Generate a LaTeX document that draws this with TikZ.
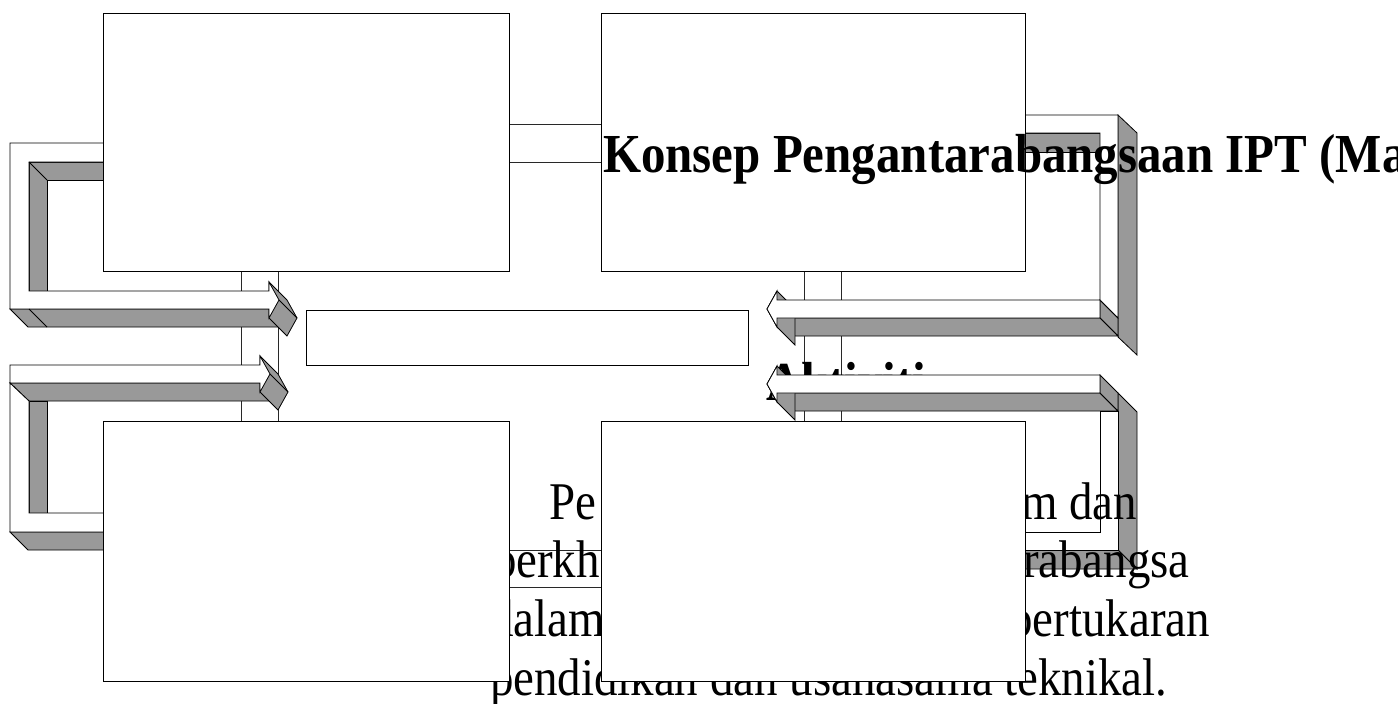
\documentclass[tikz,border=0pt]{standalone}
\usepackage{fontspec}
\usepackage{graphicx}
\setmainfont{Liberation Serif}
\definecolor{arrgray}{RGB}{153,153,153}
\definecolor{lnk}{RGB}{40,40,40}
\newcommand{\bodyfit}[1]{\scalebox{0.885}[1]{#1}}
\newcommand{\titlefit}[1]{\scalebox{0.89}[1]{#1}}
\tikzset{
  box/.style={draw=black, fill=white, line width=1pt, inner sep=0pt, outer sep=0pt, anchor=north west},
  conn/.style={draw=lnk, fill=white, line width=0.9pt},
  gface/.style={draw=black, fill=arrgray, line width=0.8pt, line join=miter},
  wface/.style={draw=black, fill=white, line width=0.8pt, line join=miter},
  seam/.style={draw=black, line width=0.8pt},
  bodytxt/.style={font=\fontsize{53}{60}\selectfont, inner sep=0pt, outer sep=0pt},
  titletxt/.style={font=\bfseries\fontsize{55}{62}\selectfont, inner sep=0pt, outer sep=0pt},
}
\begin{document}
\begin{tikzpicture}[x=1pt,y=-1pt]
\useasboundingbox (0,0) rectangle (1398,704);
\clip (0,0) rectangle (1398,704);
\fill[white] (0,0) rectangle (1398,704);

% positions of the boxes (drawn later, on top)
\path (103,13) node[box, draw=none, fill=none, minimum width=406pt, minimum height=258pt] (ulb) {};
\path (601,13) node[box, draw=none, fill=none, minimum width=424pt, minimum height=258pt] (urb) {};
\path (103,421) node[box, draw=none, fill=none, minimum width=406pt, minimum height=260pt] (llb) {};
\path (601,421) node[box, draw=none, fill=none, minimum width=424pt, minimum height=260pt] (lrb) {};

% connectors between boxes
\draw[conn] ([yshift=-111pt]ulb.north east) rectangle ([yshift=-149pt]urb.north west);
\draw[conn] ([yshift=-129pt]llb.north east) rectangle ([yshift=-166pt]lrb.north west);
\draw[conn] ([xshift=138pt]ulb.south west) rectangle ([xshift=175pt]llb.north west);
\draw[conn] ([xshift=203pt]urb.south west) rectangle ([xshift=240pt]lrb.north west);

% central box
\node[box, minimum width=442pt, minimum height=55pt] (cb) at (306,310) {};

% text hidden behind the lower right arrow
\node[titletxt, anchor=base west] (akt) at (766,400) {\titlefit{Aktiviti}};

% ---------- upper left arrow ----------
\filldraw[gface] (29,162) -- (130,162) -- (130,180) -- (47,180) -- (47,291) -- (29,291) -- cycle;
\filldraw[gface] (10,309) -- (269,309) -- (287,327) -- (28,327) -- cycle;
\filldraw[gface] (269,282) -- (287,300) -- (297,318) -- (287,336) -- (269,318) -- cycle;
\filldraw[wface] (130,143) -- (10,143) -- (10,309) -- (269,309) -- (269,318) -- (279,300)
  -- (269,282) -- (269,291) -- (29,291) -- (29,162) -- (130,162) -- cycle;
\draw[seam] (29,162) -- (47,180);
\draw[seam] (29,309) -- (47,327);
\draw[seam] (279,300) -- (297,318);

% ---------- lower left arrow ----------
\filldraw[gface] (10,383) -- (260,383) -- (278,401) -- (29,401) -- cycle;
\filldraw[gface] (29,401) -- (47,401) -- (47,513) -- (29,513) -- cycle;
\filldraw[gface] (10,532) -- (130,532) -- (130,550) -- (28,550) -- cycle;
\filldraw[gface] (260,356) -- (278,374) -- (288,392) -- (278,410) -- (260,392) -- cycle;
\filldraw[wface] (10,365) -- (260,365) -- (260,356) -- (270,374) -- (260,392) -- (260,383) -- (10,383) -- cycle;
\filldraw[wface] (10,383) -- (29,401) -- (29,513) -- (130,513) -- (130,532) -- (10,532) -- cycle;
\draw[seam] (270,374) -- (288,392);

% ---------- upper right arrow ----------
\filldraw[gface] (990,133) -- (1100,133) -- (1100,152) -- (990,152) -- cycle;
\filldraw[gface] (1118,115) -- (1137,133) -- (1137,355) -- (1118,337) -- cycle;
\filldraw[gface] (1100,300) -- (1118,318) -- (1118,336) -- (1100,318) -- cycle;
\filldraw[gface] (777,318) -- (1100,318) -- (1118,336) -- (795,336) -- cycle;
\filldraw[gface] (767,309) -- (777,291) -- (795,309) -- (795,345) -- (777,327) -- cycle;
\filldraw[wface] (990,115) -- (1118,115) -- (1118,318) -- (1100,300) -- (1100,133) -- (990,133) -- cycle;
\filldraw[wface] (1100,300) -- (777,300) -- (777,291) -- (767,309) -- (777,327) -- (777,318) -- (1100,318) -- cycle;

% ---------- lower right arrow ----------
\filldraw[gface] (1118,393) -- (1137,412) -- (1137,569) -- (1118,550) -- cycle;
\filldraw[gface] (990,550) -- (1118,550) -- (1137,569) -- (990,569) -- cycle;
\filldraw[gface] (777,393) -- (1100,393) -- (1118,411) -- (795,411) -- cycle;
\filldraw[gface] (1100,375) -- (1118,393) -- (1118,411) -- (1100,393) -- cycle;
\filldraw[gface] (767,384) -- (777,366) -- (795,384) -- (795,420) -- (777,402) -- cycle;
\filldraw[wface] (1100,411) -- (1118,411) -- (1118,550) -- (990,550) -- (990,532) -- (1100,532) -- cycle;
\filldraw[wface] (1100,375) -- (777,375) -- (777,366) -- (767,384) -- (777,402) -- (777,393) -- (1100,393) -- cycle;

% ---------- upper boxes ----------
\node[box, minimum width=406pt, minimum height=258pt] (ul) at (103,13) {};
\node[box, minimum width=424pt, minimum height=258pt] (ur) at (601,13) {};

% title (runs off the right edge, as in the reference)
\node[titletxt, anchor=base west] (title) at (603,172) {\titlefit{Konsep Pengantarabangsaan IPT (Ma}};

% body text (partly covered by the lower boxes)
\node[bodytxt, anchor=base west] (t1a) at (549,519) {\bodyfit{Pe}};
\node[bodytxt, anchor=base east] (t1b) at (1137,519) {\bodyfit{m dan}};
\node[bodytxt, anchor=base west] (t2a) at (493,577) {\bodyfit{perkh}};
\node[bodytxt, anchor=base west] (t2b) at (1023,577) {\bodyfit{rabangsa}};
\node[bodytxt, anchor=base west] (t3a) at (490,636) {\bodyfit{dalam}};
\node[bodytxt, anchor=base east] (t3b) at (1210,636) {\bodyfit{pertukaran}};
\node[bodytxt, anchor=base west] (t4) at (490,695) {\bodyfit{pendidikan dan usahasama teknikal.}};

% ---------- lower boxes ----------
\node[box, minimum width=406pt, minimum height=260pt] (ll) at (103,421) {};
\node[box, minimum width=424pt, minimum height=260pt] (lr) at (601,421) {};
\end{tikzpicture}
\end{document}
